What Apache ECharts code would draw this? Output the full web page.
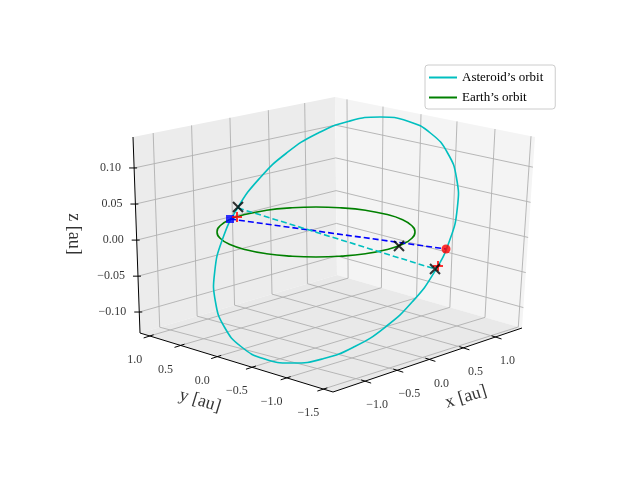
<!DOCTYPE html>
<html>
<head>
<meta charset="utf-8">
<script src="https://cdn.jsdelivr.net/npm/echarts@6/dist/echarts.min.js"></script>
<style>html,body{margin:0;padding:0;background:#fff}#main{width:640px;height:480px}</style>
</head>
<body>
<div id="main"></div>
<script>
// projected picture coordinates (the 3D view is flattened to the 640x480 plane)
var asteroidOrbit = [[380,117],[408,121.2],[431,133.5],[447.6,153],[456.6,178.5],[457.3,208.1],[449.8,240],[434.5,271.9],[412.6,301.5],[385.4,327],[354.8,346.5],[323,358.8],[292,363],[264,358.8],[241,346.5],[224.4,327],[215.4,301.5],[214.7,271.9],[222.2,240],[237.5,208.1],[259.4,178.5],[286.6,153],[317.2,133.5],[349,121.2]];
var earthOrbit = [[415,232],[411.6,225.5],[402,219.5],[386,214.3],[365.5,210.3],[341.6,207.9],[316,207],[290.4,207.9],[266.5,210.3],[246,214.3],[230,219.5],[220.4,225.5],[217,232],[220.4,238.5],[230,244.5],[246,249.7],[266.5,253.7],[290.4,256.1],[316,257],[341.6,256.1],[365.5,253.7],[386,249.7],[402,244.5],[411.6,238.5]];
var blueLine = [[230,219],[446,249]];
var cyanLine = [[238,208],[435,269]];
var crosses = [[238,207],[399,246],[435,269]];
var plusMarks = [[237,217],[438,266]];
var blueSquare = [[230,219]];
var redDot = [[446,249]];

// box corners
var leftTop = [133,137], backTop = [335,97], rightTop = [535,137];
var leftBot = [140,333], backBot = [337,275], rightBot = [522,328], frontBot = [333,392];

var zTickLabels = ['0.10', '0.05', '0.00', '\u22120.05', '\u22120.10'];
var zFrac = [0.158, 0.342, 0.526, 0.71, 0.893];
var xTickLabels = ['\u22121.0', '\u22120.5', '0.0', '0.5', '1.0'];
var xFracFront = [0.17, 0.34, 0.51, 0.69, 0.86];
var xFracBack = [0.10, 0.29, 0.48, 0.67, 0.85];
var yTickLabels = ['1.0', '0.5', '0.0', '\u22120.5', '\u22121.0', '\u22121.5'];
var yFracFront = [0.05, 0.21, 0.40, 0.58, 0.76, 0.95];
var yFracBack = [0.06, 0.24, 0.43, 0.61, 0.80, 0.98];

function lerp(p, q, t) { return [p[0] + (q[0] - p[0]) * t, p[1] + (q[1] - p[1]) * t]; }

var panes = [
  {pts: [leftTop, backTop, backBot, leftBot], color: '#ececec'},
  {pts: [backTop, rightTop, rightBot, backBot], color: '#f4f4f4'},
  {pts: [leftBot, backBot, rightBot, frontBot], color: '#e9e9e9'}
];

var grid = [];
zFrac.forEach(function (f) {
  var a = lerp(leftTop, leftBot, f), b = lerp(backTop, backBot, f), c = lerp(rightTop, rightBot, f);
  grid.push(a.concat(b)); grid.push(b.concat(c));
});
xFracFront.forEach(function (f, i) {
  var a = lerp(frontBot, rightBot, f), b = lerp(leftBot, backBot, xFracBack[i]);
  var top = lerp(leftTop, backTop, xFracBack[i]);
  grid.push(a.concat(b)); grid.push(b.concat(top));
});
yFracFront.forEach(function (f, i) {
  var a = lerp(leftBot, frontBot, f), b = lerp(backBot, rightBot, yFracBack[i]);
  var top = lerp(backTop, rightTop, yFracBack[i]);
  grid.push(a.concat(b)); grid.push(b.concat(top));
});

var axes = [leftTop.concat(leftBot), leftBot.concat(frontBot), frontBot.concat(rightBot)];
var ticks = [];
zFrac.forEach(function (f) { var p = lerp(leftTop, leftBot, f); ticks.push([p[0] - 5, p[1], p[0] + 3, p[1]]); });
xFracFront.forEach(function (f) { var p = lerp(frontBot, rightBot, f); ticks.push([p[0] - 4, p[1] - 1.2, p[0] + 6, p[1] + 2]); });
yFracFront.forEach(function (f) { var p = lerp(leftBot, frontBot, f); ticks.push([p[0] + 4, p[1] - 1.2, p[0] - 6, p[1] + 2]); });

var labels = [];
zTickLabels.forEach(function (t, i) { var p = lerp(leftTop, leftBot, zFrac[i]); labels.push({value: [p[0] - 13, p[1]], name: t, align: 'right', rot: 0, size: 12}); });
xTickLabels.forEach(function (t, i) { var p = lerp(frontBot, rightBot, xFracFront[i]); labels.push({value: [p[0] + 12, p[1] + 24], name: t, align: 'center', rot: 0, size: 12}); });
yTickLabels.forEach(function (t, i) { var p = lerp(leftBot, frontBot, yFracFront[i]); labels.push({value: [p[0] - 15, p[1] + 24], name: t, align: 'center', rot: 0, size: 12}); });
labels.push({value: [466, 397], name: 'x [au]', align: 'center', rot: 17, size: 18});
labels.push({value: [200, 401], name: 'y [au]', align: 'center', rot: -17, size: 18});
labels.push({value: [74, 234], name: 'z [au]', align: 'center', rot: -90, size: 18});

var font = 'Liberation Serif';

function segSeries(data, color, width, z) {
  return {
    type: 'custom', silent: true, z: z, data: data,
    renderItem: function (params, api) {
      var p1 = api.coord([api.value(0), api.value(1)]), p2 = api.coord([api.value(2), api.value(3)]);
      return {type: 'line', shape: {x1: p1[0], y1: p1[1], x2: p2[0], y2: p2[1]}, style: {stroke: color, lineWidth: width}};
    }
  };
}

// closed smooth curve through the points of one orbit
function loopSeries(name, data, color) {
  return {
    name: name, type: 'custom', silent: true, z: 5, data: data,
    renderItem: function (params, api) {
      if (params.dataIndex !== 0) return null;
      var pts = data.map(function (q) { return api.coord(q); });
      return {type: 'polygon', shape: {points: pts, smooth: 0.5}, style: {fill: 'none', stroke: color, lineWidth: 1.6}};
    }
  };
}

var chart = echarts.init(document.getElementById('main'));
var option = {
  backgroundColor: '#fff',
  animation: false,
  grid: {left: 0, right: 0, top: 0, bottom: 0},
  xAxis: {type: 'value', min: 0, max: 640, show: false},
  yAxis: {type: 'value', min: 0, max: 480, inverse: true, show: false},
  legend: {
    orient: 'vertical', left: 425, top: 65, padding: [6, 12, 5, 4], itemGap: 7,
    backgroundColor: '#fff', borderColor: '#cccccc', borderWidth: 1, borderRadius: 3,
    itemWidth: 28, itemHeight: 2, icon: 'rect',
    textStyle: {fontFamily: font, fontSize: 13, color: '#000'},
    data: [
      {name: 'Asteroid\u2019s orbit', itemStyle: {color: '#00bfbf'}},
      {name: 'Earth\u2019s orbit', itemStyle: {color: 'green'}}
    ]
  },
  series: [
    {
      type: 'custom', silent: true, z: 1, data: panes.map(function (p, i) { return [i]; }),
      renderItem: function (params, api) {
        var p = panes[params.dataIndex];
        return {type: 'polygon', shape: {points: p.pts.map(function (q) { return api.coord(q); })}, style: {fill: p.color}};
      }
    },
    segSeries(grid, '#b0b0b0', 0.9, 2),
    segSeries(axes, '#000', 1, 3),
    segSeries(ticks, '#000', 1, 3),
    loopSeries('Earth\u2019s orbit', earthOrbit, 'green'),
    loopSeries('Asteroid\u2019s orbit', asteroidOrbit, '#00bfbf'),
    {type: 'line', showSymbol: false, z: 6, data: blueLine, lineStyle: {color: 'blue', width: 1.6, type: [6, 3]}},
    {type: 'line', showSymbol: false, z: 6, data: cyanLine, lineStyle: {color: '#00bfbf', width: 1.6, type: [6, 3]}},
    {type: 'scatter', z: 7, data: blueSquare, symbol: 'rect', symbolSize: 8, itemStyle: {color: 'blue'}},
    {type: 'scatter', z: 7, data: redDot, symbol: 'circle', symbolSize: 9, itemStyle: {color: 'red'}},
    {type: 'scatter', z: 8, data: plusMarks, symbol: 'path://M-1,0H1M0,-1V1', symbolSize: 10, itemStyle: {color: 'none', borderColor: 'red', borderWidth: 2}},
    {type: 'scatter', z: 9, data: crosses, symbol: 'path://M-1,-1L1,1M-1,1L1,-1', symbolSize: 10, itemStyle: {color: 'none', borderColor: '#000', borderWidth: 2}},
    {
      type: 'scatter', z: 10, symbolSize: 0, silent: true,
      data: labels.map(function (l) {
        return {value: l.value, name: l.name, label: {show: true, position: 'inside', formatter: l.name, rotate: l.rot, align: l.align, verticalAlign: 'middle', fontFamily: font, fontSize: l.size, color: '#000'}};
      })
    }
  ]
};
chart.setOption(option);
</script>
</body>
</html>
